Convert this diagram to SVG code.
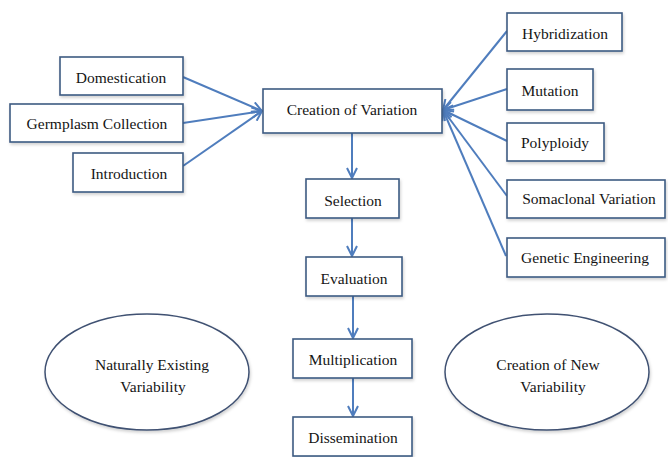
<svg xmlns="http://www.w3.org/2000/svg" width="668" height="457" viewBox="0 0 668 457" font-family="'Liberation Serif', Tinos, 'DejaVu Serif', serif">
<style>
.box{fill:#fff;stroke:#3d5a82;stroke-width:1.6}
.t{font-family:'Liberation Serif', Tinos, 'DejaVu Serif', serif;font-size:15.5px;fill:#151515;text-anchor:middle}
.c{fill:none;stroke:#4f7dbd;stroke-width:2}
.ell{fill:#fff;stroke:#3f5172;stroke-width:1.5}
</style>
<defs>
<marker id="ah" viewBox="0 0 12 12" refX="11" refY="6" markerWidth="12" markerHeight="12" markerUnits="userSpaceOnUse" orient="auto">
<path d="M1,1 L11,6 L1,11" fill="none" stroke="#4f7dbd" stroke-width="2"/>
</marker>
<filter id="sh" x="-10%" y="-10%" width="130%" height="140%">
<feDropShadow dx="1" dy="2" stdDeviation="1.5" flood-color="#000" flood-opacity="0.18"/>
</filter>
</defs>
<g id="connectors">
<line class="c" x1="183" y1="77" x2="262" y2="111" marker-end="url(#ah)"/>
<line class="c" x1="183" y1="123" x2="262" y2="111" marker-end="url(#ah)"/>
<line class="c" x1="183" y1="166" x2="262" y2="111" marker-end="url(#ah)"/>
<line class="c" x1="507" y1="31" x2="443" y2="110" marker-end="url(#ah)"/>
<line class="c" x1="507" y1="89" x2="443" y2="110" marker-end="url(#ah)"/>
<line class="c" x1="507" y1="141" x2="443" y2="110" marker-end="url(#ah)"/>
<line class="c" x1="507" y1="196" x2="443" y2="110" marker-end="url(#ah)"/>
<line class="c" x1="506" y1="256" x2="443" y2="110" marker-end="url(#ah)"/>
<line class="c" x1="352" y1="133" x2="352" y2="178" marker-end="url(#ah)"/>
<line class="c" x1="352" y1="218" x2="352" y2="256" marker-end="url(#ah)"/>
<line class="c" x1="353" y1="296" x2="353" y2="338" marker-end="url(#ah)"/>
<line class="c" x1="353" y1="378" x2="353" y2="416" marker-end="url(#ah)"/>
</g>
<g id="domestication"><rect class="box" filter="url(#sh)" x="60" y="57" width="123" height="38"/><text class="t" x="121" y="83">Domestication</text></g>
<g id="germplasm"><rect class="box" filter="url(#sh)" x="10" y="104" width="173" height="38"/><text class="t" x="97" y="129">Germplasm Collection</text></g>
<g id="introduction"><rect class="box" filter="url(#sh)" x="73" y="153" width="110" height="39"/><text class="t" x="129" y="179">Introduction</text></g>
<g id="creation"><rect class="box" filter="url(#sh)" x="263" y="89" width="179" height="44"/><text class="t" x="352" y="115">Creation of Variation</text></g>
<g id="hybridization"><rect class="box" filter="url(#sh)" x="507" y="13" width="115" height="38"/><text class="t" x="565" y="39">Hybridization</text></g>
<g id="mutation"><rect class="box" filter="url(#sh)" x="507" y="69" width="86" height="41"/><text class="t" x="550" y="96">Mutation</text></g>
<g id="polyploidy"><rect class="box" filter="url(#sh)" x="507" y="123" width="97" height="38"/><text class="t" x="555" y="148">Polyploidy</text></g>
<g id="somaclonal"><rect class="box" filter="url(#sh)" x="507" y="180" width="158" height="38"/><text class="t" x="589" y="204">Somaclonal Variation</text></g>
<g id="genetic"><rect class="box" filter="url(#sh)" x="507" y="238" width="158" height="39"/><text class="t" x="585" y="263">Genetic Engineering</text></g>
<g id="selection"><rect class="box" filter="url(#sh)" x="306" y="179" width="93" height="39"/><text class="t" x="353" y="206">Selection</text></g>
<g id="evaluation"><rect class="box" filter="url(#sh)" x="306" y="257" width="96" height="39"/><text class="t" x="354" y="284">Evaluation</text></g>
<g id="multiplication"><rect class="box" filter="url(#sh)" x="293" y="339" width="119" height="39"/><text class="t" x="353" y="365">Multiplication</text></g>
<g id="dissemination"><rect class="box" filter="url(#sh)" x="293" y="417" width="119" height="39"/><text class="t" x="353" y="443">Dissemination</text></g>
<g id="natural"><ellipse class="ell" filter="url(#sh)" cx="147" cy="372" rx="102" ry="58"/><text class="t" x="152" y="370">Naturally Existing</text><text class="t" x="153" y="392">Variability</text></g>
<g id="newvar"><ellipse class="ell" filter="url(#sh)" cx="547" cy="372" rx="102" ry="58"/><text class="t" x="548" y="370">Creation of New</text><text class="t" x="553" y="392">Variability</text></g>
</svg>
